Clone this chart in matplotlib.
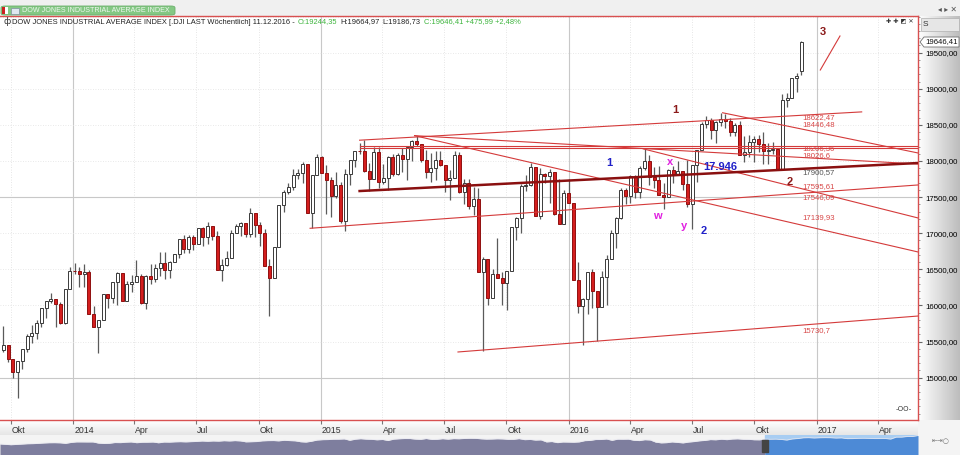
import matplotlib
matplotlib.use("Agg")
import matplotlib.pyplot as plt
import matplotlib.dates as mdates
import matplotlib.transforms as mtransforms
from matplotlib.patches import FancyBboxPatch, Rectangle, Polygon
from matplotlib.ticker import MultipleLocator, FuncFormatter, FixedLocator
import numpy as np
import pandas as pd

W, H = 960, 455
FONT = "Liberation Sans"

# weekly DJIA candles, first bar = week ending 2013-09-20
first_week = "2013-09-20"
opens = [
    15376, 15451, 15258, 15073, 15237, 15399, 15570, 15615, 15762, 15962, 16064, 16086, 16020, 15755, 16221,
    16479, 16470, 16437, 16458, 15879, 15699, 15794, 16154, 16103, 16322, 16453, 16065, 16302,
    16323, 16413, 16027, 16409, 16361, 16513, 16583, 16491, 16606, 16717, 16924, 16776, 16948,
    16852, 17068, 16944, 17100, 16961, 16493, 16554, 16663, 17001, 17098, 17138, 16988, 17280,
    17113, 17009, 16544, 16380, 16805, 17391, 17573, 17635, 17810, 17828, 17958, 17281, 17804,
    18053, 17833, 17737, 17511, 17673, 17165, 17825, 18019, 18140, 18133, 17856, 17749, 18128,
    17712, 17763, 18058, 17826, 18080, 18024, 18191, 18272, 18232, 18011, 17849, 17898, 18016,
    17947, 17730, 17760, 18086, 17569, 17690, 17373, 17477, 16460, 16643, 16102, 16433, 16385,
    16315, 16472, 17084, 17216, 17647, 17664, 17910, 17245, 17824, 17798, 17848, 17265, 17128, 17553,
    17425, 16347, 15988, 16094, 16466, 16205, 15974, 16392, 16640, 17007, 17213, 17602,
    17516, 17793, 17577, 17898, 18004, 17774, 17741, 17535, 17501, 17873, 17807, 17865, 17675,
    17400, 17949, 18147, 18517, 18571, 18432, 18544, 18577, 18553, 18395, 18492, 18086, 18124,
    18262, 18308, 18241, 18138, 18146, 18161, 17888, 18848, 18868, 19153, 19244,
]
highs = [
    15710, 15455, 15258, 15237, 15399, 15599, 15722, 15798, 15962, 16064, 16174, 16086, 16051, 16221, 16529,
    16588, 16530, 16573, 16484, 15998, 15795, 16154, 16154, 16323, 16464, 16453, 16340, 16423,
    16631, 16429, 16424, 16572, 16570, 16736, 16736, 16613, 16718, 16925, 16970, 16979, 16978,
    17075, 17089, 17151, 17101, 17032, 16640, 16750, 17040, 17130, 17158, 17138, 17351, 17280,
    17150, 17060, 16644, 16805, 17395, 17600, 17700, 17894, 17894, 17992, 17958, 17804, 18103,
    18070, 17951, 17782, 17850, 17707, 17891, 18019, 18140, 18244, 18288, 17977, 18200, 18199,
    17958, 18075, 18100, 18110, 18175, 18194, 18287, 18351, 18232, 18154, 18110, 18134, 18134,
    17947, 17874, 18137, 18120, 17750, 17750, 17640, 17620, 16666, 16643, 16500, 16933, 16460,
    16472, 17084, 17220, 17680, 17800, 17977, 17910, 17900, 17830, 17896, 17848, 17750, 17600, 17750,
    17425, 16600, 16100, 16466, 16510, 16205, 16470, 16700, 17050, 17220, 17620, 17620,
    17800, 17800, 17925, 18168, 18084, 17920, 17935, 17700, 17891, 17930, 18003, 17865, 18011,
    17949, 18150, 18537, 18622, 18590, 18550, 18668, 18650, 18595, 18530, 18550, 18350, 18360,
    18350, 18358, 18400, 18250, 18260, 18168, 18934, 18935, 19153, 19225, 19664,
]
lows = [
    15355, 15212, 14996, 14719, 15113, 15359, 15485, 15533, 15703, 15819, 16028, 15703, 15739, 15737, 16221,
    16441, 16257, 16255, 15879, 15699, 15341, 15794, 15960, 16028, 16002, 16058, 16065, 16190,
    16323, 16015, 15955, 16302, 16329, 16412, 16368, 16376, 16606, 16662, 16726, 16728, 16767,
    16852, 16826, 16848, 16910, 16493, 16333, 16548, 16663, 17001, 16962, 16945, 16945, 16945,
    16821, 16541, 15855, 16380, 16805, 17300, 17540, 17600, 17750, 17700, 17280, 17068, 17804,
    17833, 17262, 17219, 17490, 17136, 17037, 17668, 17917, 18098, 17848, 17585, 17749, 17632,
    17683, 17600, 17793, 17800, 17850, 17735, 17998, 18201, 17990, 17761, 17704, 17734, 17929,
    17576, 17465, 17760, 17550, 17399, 17333, 17250, 16460, 15370, 16000, 16102, 16380, 16000,
    15942, 16472, 16900, 17000, 17580, 17650, 17240, 17200, 17700, 17420, 17250, 17128, 17128, 17420,
    16346, 15900, 15450, 15880, 15960, 15503, 15974, 16010, 16640, 16800, 17200, 17400,
    17420, 17484, 17484, 17870, 17667, 17630, 17535, 17331, 17500, 17700, 17800, 17602, 17356,
    17063, 17713, 18147, 18450, 18300, 18250, 18480, 18450, 18350, 18350, 18085, 17992, 18050,
    17991, 18127, 17960, 17959, 18095, 17884, 17888, 18750, 18868, 18950, 19186,
]
closes = [
    15452, 15258, 15073, 15237, 15400, 15570, 15615, 15762, 15962, 16064, 16086, 16020, 15755, 16221, 16479,
    16470, 16437, 16458, 15879, 15699, 15794, 16154, 16103, 16322, 16453, 16065, 16302, 16323,
    16413, 16027, 16409, 16361, 16513, 16583, 16491, 16606, 16717, 16924, 16776, 16948, 16852,
    17068, 16944, 17100, 16961, 16493, 16554, 16663, 17001, 17098, 17138, 16988, 17280, 17113,
    17009, 16544, 16380, 16805, 17391, 17573, 17635, 17810, 17828, 17958, 17281, 17804, 18053,
    17833, 17737, 17511, 17673, 17165, 17825, 18019, 18140, 18133, 17856, 17749, 18128, 17712,
    17763, 18058, 17826, 18080, 18024, 18191, 18272, 18232, 18011, 17849, 17898, 18016, 17947,
    17730, 17760, 18086, 17569, 17690, 17373, 17477, 16460, 16643, 16102, 16433, 16385, 16315,
    16472, 17084, 17216, 17647, 17664, 17910, 17245, 17824, 17798, 17848, 17265, 17128, 17553, 17425,
    16347, 15988, 16094, 16466, 16205, 15974, 16392, 16640, 17007, 17213, 17602, 17516,
    17793, 17577, 17898, 18004, 17774, 17741, 17535, 17501, 17873, 17807, 17865, 17675, 17400,
    17949, 18147, 18517, 18571, 18432, 18544, 18577, 18553, 18395, 18492, 18086, 18124, 18262,
    18308, 18241, 18138, 18146, 18161, 17888, 18848, 18868, 19153, 19171, 19646,
]

# drawn trend lines: start date, start value, end date, end value
thin_lines = [
    ("2015-02-27", 18288, "2017-03-08", 18680),
    ("2015-02-27", 18208, "2017-05-30", 18208),
    ("2015-02-27", 18180, "2017-05-30", 18180),
    ("2014-12-16", 17068, "2017-05-30", 17668),
    ("2015-05-19", 18351, "2017-05-30", 17958),
    ("2015-05-19", 18351, "2017-05-30", 16740),
    ("2016-08-15", 18668, "2017-05-30", 18111),
    ("2016-04-20", 18168, "2017-05-30", 17211),
    ("2015-07-22", 15355, "2017-05-30", 15853),
    ("2017-01-06", 19260, "2017-02-04", 19731),
]
thick_line = ("2015-02-27", 17584, "2017-05-30", 17972)

level_texts = ["18622,47", "18446,48", "18206,36", "18026,6", "17900,57",
               "17595,61", "17546,09", "17139,93", "15730,7"]
level_values = [18598, 18500, 18166, 18070, 17834, 17640, 17488, 17211, 15645]
level_colors = ["#d84848"] * 4 + ["#555555"] + ["#d84848"] * 4

wave_texts = ["3", "1", "2", "1", "2", "w", "x", "y"]
wave_dates = ["2017-01-10", "2016-06-07", "2016-11-22", "2016-03-01",
              "2016-07-18", "2016-05-11", "2016-05-30", "2016-06-19"]
wave_values = [19787, 18706, 17709, 17972, 17030, 17238, 17986, 17100]
wave_colors = ["#8b1a1a", "#8b1a1a", "#8b1a1a", "#2020c8", "#2020c8",
               "#e020e0", "#e020e0", "#e020e0"]

x_start, x_end = "2013-09-15", "2017-05-30"
y_min, y_max = 14413, 20008

fig = plt.figure(figsize=(W / 100, H / 100), dpi=100)
fig.patch.set_facecolor("#f4f4f4")


def fx(px):
    return px / W


def fy(py):
    return 1 - py / H


# right price-scale panel
panel = fig.add_axes([fx(918), fy(420), fx(42), (420 - 16) / H], zorder=0)
grad = np.linspace(1.0, 0.74, 64)[None, :]
panel.imshow(grad, cmap="gray", vmin=0, vmax=1, aspect="auto", extent=(0, 1, 0, 1))
panel.set_axis_off()

# bottom date strip
strip = fig.add_axes([0, fy(435), fx(918), 15 / H], zorder=0)
strip.imshow(np.linspace(1.0, 0.9, 32)[:, None], cmap="gray", vmin=0, vmax=1,
             aspect="auto", extent=(0, 1, 0, 1))
strip.set_axis_off()

ax = fig.add_axes([0, fy(420), fx(918), (420 - 16) / H], zorder=2)
ax.set_facecolor("white")

dates = pd.date_range(first_week, periods=len(closes), freq="W-FRI")
xd = mdates.date2num(dates)
o = np.array(opens, float)
c = np.array(closes, float)
h = np.array(highs, float)
l = np.array(lows, float)
up = c >= o

ax.vlines(xd, l, h, color="#5a5a5a", lw=0.9, zorder=2)
bottoms = np.minimum(o, c)
heights = np.maximum(np.abs(c - o), 12)
ax.bar(xd, heights, bottom=bottoms, width=4.3,
       color=np.where(up, "white", "#d41e1e"),
       edgecolor=np.where(up, "#3a3a3a", "#901010"), lw=0.7, zorder=3)

for d0, v0, d1, v1 in thin_lines:
    ax.plot(pd.to_datetime([d0, d1]), [v0, v1], color="#d43a3a", lw=0.8, zorder=4)
d0, v0, d1, v1 = thick_line
ax.plot(pd.to_datetime([d0, d1]), [v0, v1], color="#8a1010", lw=1.8, zorder=4)

label_x = pd.Timestamp("2016-12-10")
for txt, val, col in zip(level_texts, level_values, level_colors):
    ax.text(label_x, val, txt, color=col, fontsize=5.6, family=FONT, va="center", ha="left", zorder=5)

for txt, d, val, col in zip(wave_texts, wave_dates, wave_values, wave_colors):
    ax.text(pd.Timestamp(d), val, txt, color=col, fontsize=8, fontweight="bold",
            family=FONT, ha="center", va="center", zorder=5)
ax.text(pd.Timestamp("2016-07-17"), 17917, "17.946", color="#2020c8", fontsize=8,
        fontweight="bold", family=FONT, ha="left", va="center", zorder=5)

# grid
quarters = pd.date_range("2013-10-01", "2017-04-01", freq="QS")
for q in quarters:
    if q.month == 1:
        ax.axvline(q, color="#c8c8c8", lw=0.8, zorder=1)
    else:
        ax.axvline(q, color="#dedede", lw=0.6, ls=(0, (1, 2)), zorder=1)
for lev in range(15000, 20001, 500):
    if lev in (15000, 17500):
        ax.axhline(lev, color="#c8c8c8", lw=0.8, zorder=1)
    else:
        ax.axhline(lev, color="#e2e2e2", lw=0.6, ls=(0, (1, 2)), zorder=1)

ax.set_xlim(pd.Timestamp(x_start), pd.Timestamp(x_end))
ax.set_ylim(y_min, y_max)

# axes styling
for side in ("top", "right", "bottom"):
    ax.spines[side].set_color("#d85050")
    ax.spines[side].set_linewidth(1.0)
ax.spines["left"].set_visible(False)

ax.yaxis.tick_right()
ax.yaxis.set_major_locator(FixedLocator(np.arange(15000, 19501, 500)))
ax.yaxis.set_minor_locator(MultipleLocator(100))
ax.yaxis.set_major_formatter(FuncFormatter(lambda v, p: f"{v:.2f}".replace(".", ",")))
ax.tick_params(axis="y", which="major", length=3, color="#666666", labelsize=5.7, pad=2)
ax.tick_params(axis="y", which="minor", length=1.5, color="#888888")
for t in ax.get_yticklabels():
    t.set_family(FONT)

month_names = {4: "Apr", 7: "Jul", 10: "Okt"}
ax.xaxis.set_major_locator(FixedLocator(mdates.date2num(quarters)))
ax.set_xticklabels([str(q.year) if q.month == 1 else month_names[q.month] for q in quarters])
ax.tick_params(axis="x", length=3, color="#777777", labelsize=6.3, pad=1, labelcolor="#333333")
offset = mtransforms.ScaledTranslation(1 / 100, 0, fig.dpi_scale_trans)
for t in ax.get_xticklabels():
    t.set_ha("left")
    t.set_family(FONT)
    t.set_transform(t.get_transform() + offset)

# navigator
nav = fig.add_axes([0, 0, fx(918), 20 / H], zorder=1)
nav.set_facecolor("#f2f2f4")
idx = np.arange(len(closes))
sel = int(len(closes) * 762 / 918)
nav.axvspan(sel, len(closes) - 1, color="#a8cdf2", zorder=0)
nav.fill_between(idx[:sel + 1], c[:sel + 1], 10000, color="#7e7e9e", lw=0, zorder=1)
nav.fill_between(idx[sel:], c[sel:], 10000, color="#4d8ad6", lw=0, zorder=1)
nav.plot(idx, c, color="#e8e8f0", lw=0.5, zorder=2)
nav.axvspan(sel - 0.5, sel + 0.5, ymin=0.15, ymax=0.75, color="#444444", zorder=3)
nav.set_xlim(0, len(closes) - 1)
nav.set_ylim(10000, 19900)
nav.set_axis_off()

# header band
fig.add_artist(Rectangle((0, fy(16)), 1, 16 / H, transform=fig.transFigure,
                         facecolor="#f0f0f0", edgecolor="none", zorder=0))
fig.add_artist(FancyBboxPatch((fx(1), fy(15)), fx(174), 9 / H, transform=fig.transFigure,
                              boxstyle="round,pad=0,rounding_size=0.004",
                              facecolor="#84c884", edgecolor="#6aae6a", lw=0.6, zorder=3))
fig.add_artist(Rectangle((fx(2), fy(14)), fx(3), 7 / H, transform=fig.transFigure,
                         facecolor="#cc2020", edgecolor="none", zorder=4))
fig.add_artist(Rectangle((fx(5), fy(14)), fx(3), 7 / H, transform=fig.transFigure,
                         facecolor="white", edgecolor="none", zorder=4))
fig.add_artist(Rectangle((fx(11), fy(14)), fx(8), 6 / H, transform=fig.transFigure,
                         facecolor="#dfe8f0", edgecolor="#8090a0", lw=0.5, zorder=4))
fig.text(fx(22), fy(10.5), "DOW JONES INDUSTRIAL AVERAGE INDEX", fontsize=5.1, family=FONT,
         color="#eef6ee", va="center", ha="left", zorder=5)
fig.text(fx(957), fy(9), "◂ ▸ ✕", fontsize=5.5, color="#555555", ha="right", va="center")

# chart header line with coloured OHLC pieces
renderer = fig.canvas.get_renderer()
pieces = [
    ("DOW JONES INDUSTRIAL AVERAGE INDEX [.DJI LAST Wöchentlich] 11.12.2016 -", "#222222"),
    ("O:19244,35", "#3cb43c"),
    ("H:19664,97", "#222222"),
    ("L:19186,73", "#222222"),
    ("C:19646,41 +475,99 +2,48%", "#3cb43c"),
]
fig.text(fx(3), fy(22), "ф", fontsize=6, color="#333333", va="center", ha="left", zorder=6)
px = 12
for txt, col in pieces:
    t = fig.text(fx(px), fy(22), txt, fontsize=5.4, family=FONT, color=col,
                 va="center", ha="left", zorder=6)
    px += t.get_window_extent(renderer).width + 3

fig.text(fx(914), fy(22), "✚ ✚ ◩ ✕", fontsize=4.5, color="#333333", ha="right", va="center", zorder=6)
fig.text(fx(912), fy(409), "-OO-", fontsize=5, color="#333333", ha="right", va="center", zorder=6)

# right panel boxes
fig.add_artist(Rectangle((fx(921), fy(31)), fx(38), 13 / H, transform=fig.transFigure,
                         facecolor="#e6e6e6", edgecolor="#b0b0b0", lw=0.5, zorder=5))
fig.text(fx(923), fy(24.5), "S", fontsize=6, family=FONT, color="#333333", va="center", zorder=6)
fig.add_artist(Polygon([(fx(920), fy(42)), (fx(924), fy(37)), (fx(959), fy(37)),
                        (fx(959), fy(47)), (fx(924), fy(47))], closed=True,
                       transform=fig.transFigure, facecolor="white", edgecolor="#707070",
                       lw=0.6, zorder=5))
fig.text(fx(941.5), fy(42), "19646,41", fontsize=5.6, family=FONT, color="#111111",
         ha="center", va="center", zorder=6)
fig.text(fx(941), fy(441), "⇤⇥○", fontsize=5, color="#777777", ha="center", va="center", zorder=6)

fig.savefig("out.png", dpi=100, facecolor=fig.get_facecolor())
